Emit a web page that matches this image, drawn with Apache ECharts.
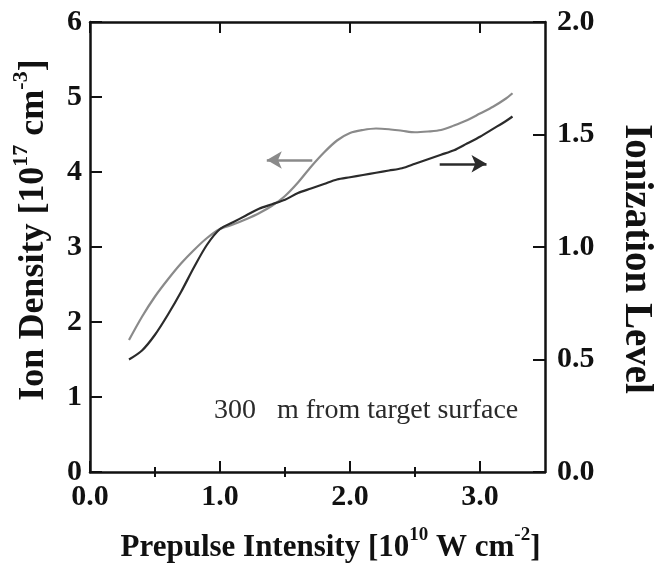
<!DOCTYPE html>
<html>
<head>
<meta charset="utf-8">
<script src="https://cdn.jsdelivr.net/npm/echarts@6/dist/echarts.min.js"></script>
<style>
    html, body { margin: 0; padding: 0; background: #fff; }
    #chart { width: 655px; height: 563px; }
</style>
</head>
<body>
<div id="chart"></div>
<script>
// ion density (left axis, grey curve)
const densityX = [0.30, 0.40, 0.50, 0.60, 0.70, 0.80, 0.90, 1.00, 1.10, 1.20, 1.30, 1.40, 1.50, 1.60, 1.70, 1.80, 1.90, 2.00, 2.10, 2.20, 2.30, 2.40, 2.50, 2.60, 2.70, 2.80, 2.90, 3.00, 3.10, 3.20, 3.25];
const densityY = [1.76, 2.07, 2.34, 2.57, 2.78, 2.96, 3.12, 3.24, 3.30, 3.37, 3.45, 3.55, 3.68, 3.86, 4.07, 4.26, 4.42, 4.52, 4.56, 4.58, 4.57, 4.55, 4.53, 4.54, 4.56, 4.62, 4.69, 4.78, 4.87, 4.98, 5.05];

// ionization level (right axis, dark curve)
const levelX = [0.30, 0.40, 0.50, 0.60, 0.70, 0.80, 0.90, 1.00, 1.10, 1.20, 1.30, 1.40, 1.50, 1.60, 1.70, 1.80, 1.90, 2.00, 2.10, 2.20, 2.30, 2.40, 2.50, 2.60, 2.70, 2.80, 2.90, 3.00, 3.10, 3.20, 3.25];
const levelY = [0.50, 0.54, 0.61, 0.70, 0.80, 0.91, 1.01, 1.08, 1.11, 1.14, 1.17, 1.19, 1.21, 1.24, 1.26, 1.28, 1.30, 1.31, 1.32, 1.33, 1.34, 1.35, 1.37, 1.39, 1.41, 1.43, 1.46, 1.49, 1.525, 1.56, 1.58];

const xMajorTicks = [0, 1, 2, 3];
const xMinorTicks = [0.5, 1.5, 2.5];

// arrows pointing to each curve's axis
const densityArrow = [[1.71, 4.16], [1.36, 4.16]];
const levelArrow = [[2.69, 1.37], [3.05, 1.37]];

const note = '300   m from target surface';

const serif = 'Liberation Serif';
const black = '#111';
const greyLine = '#8a8a8a';
const darkLine = '#2b2b2b';

function zip(xs, ys) {
    return xs.map((x, i) => [x, ys[i]]);
}

const titleRich = size => ({
    b: { fontFamily: serif, fontWeight: 'bold', fontSize: size, color: black, lineHeight: size + 6, verticalAlign: 'bottom' },
    s: { fontFamily: serif, fontWeight: 'bold', fontSize: Math.round(size * 0.6), color: black, lineHeight: size + 6, verticalAlign: 'top' }
});

const tickLabel = {
    fontFamily: serif,
    fontWeight: 'bold',
    fontSize: 30,
    color: black
};

const axisLine = { show: true, onZero: false, lineStyle: { color: black, width: 2.5 } };

function xAxisPart(position, major, withLabels) {
    return {
        type: 'value',
        position: position,
        min: 0,
        max: 3.5,
        interval: 0.5,
        axisLine: major ? axisLine : { show: false },
        axisTick: {
            show: true,
            inside: true,
            length: major ? 11 : 5,
            customValues: major ? xMajorTicks : xMinorTicks,
            lineStyle: { color: black, width: 2 }
        },
        axisLabel: withLabels ? Object.assign({
            show: true,
            margin: 10,
            customValues: xMajorTicks,
            formatter: v => v.toFixed(1)
        }, tickLabel) : { show: false },
        splitLine: { show: false }
    };
}

const bottomAxis = xAxisPart('bottom', true, true);
bottomAxis.name = '{b|Prepulse Intensity [10}{s|10}{b| W cm}{s|-2}{b|]}';
bottomAxis.nameLocation = 'middle';
bottomAxis.nameGap = 54;
bottomAxis.nameTextStyle = { rich: titleRich(31), padding: [0, 0, 0, 26] };

const option = {
    backgroundColor: '#fff',
    animation: false,
    grid: { left: 90, right: 110, top: 22, bottom: 91, outerBoundsMode: 'none' },
    xAxis: [
        bottomAxis,
        xAxisPart('bottom', false, false),
        xAxisPart('top', true, false),
        xAxisPart('top', false, false)
    ],
    yAxis: [
        {
            type: 'value',
            position: 'left',
            min: 0,
            max: 6,
            interval: 1,
            axisLine: axisLine,
            axisTick: { show: true, inside: true, length: 12, lineStyle: { color: black, width: 2 } },
            axisLabel: Object.assign({ margin: 8 }, tickLabel),
            splitLine: { show: false },
            name: '{b|Ion Density [10}{s|17}{b| cm}{s|-3}{b|]}',
            nameLocation: 'middle',
            nameRotate: 90,
            nameGap: 38,
            nameTextStyle: { rich: titleRich(36), padding: [0, 0, 0, 34] }
        },
        {
            type: 'value',
            position: 'right',
            min: 0,
            max: 2,
            interval: 0.5,
            axisLine: axisLine,
            axisTick: { show: true, inside: true, length: 12, lineStyle: { color: black, width: 2 } },
            axisLabel: Object.assign({ margin: 12, formatter: v => v.toFixed(1) }, tickLabel),
            splitLine: { show: false },
            name: '{b|Ionization Level}',
            nameLocation: 'middle',
            nameRotate: -90,
            nameGap: 72,
            nameTextStyle: { rich: titleRich(39), padding: [0, 0, 0, 24] }
        }
    ],
    series: [
        {
            name: 'Ion Density',
            type: 'line',
            xAxisIndex: 0,
            yAxisIndex: 0,
            data: zip(densityX, densityY),
            smooth: 0.3,
            symbol: 'none',
            lineStyle: { color: greyLine, width: 2.2 },
            markLine: {
                silent: true,
                symbol: ['none', 'arrow'],
                symbolSize: [13, 15],
                label: { show: false },
                lineStyle: { color: greyLine, width: 2.5, type: 'solid' },
                data: [[{ coord: densityArrow[0] }, { coord: densityArrow[1] }]]
            }
        },
        {
            name: 'Ionization Level',
            type: 'line',
            xAxisIndex: 0,
            yAxisIndex: 1,
            data: zip(levelX, levelY),
            smooth: 0.3,
            symbol: 'none',
            lineStyle: { color: darkLine, width: 2.2 },
            markLine: {
                silent: true,
                symbol: ['none', 'arrow'],
                symbolSize: [13, 15],
                label: { show: false },
                lineStyle: { color: darkLine, width: 2.5, type: 'solid' },
                data: [[{ coord: levelArrow[0] }, { coord: levelArrow[1] }]]
            }
        }
    ],
    graphic: [{
        type: 'text',
        left: 214,
        top: 397,
        style: {
            text: note,
            fontFamily: serif,
            fontSize: 28,
            fill: '#2a2a2a'
        }
    }]
};

const chart = echarts.init(document.getElementById('chart'));
chart.setOption(option);
</script>
</body>
</html>
